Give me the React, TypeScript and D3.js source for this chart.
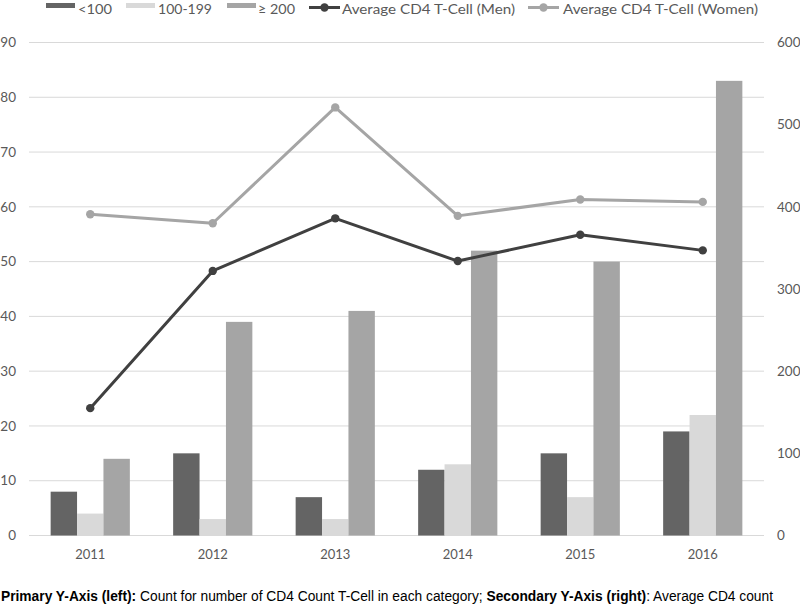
import React, { useLayoutEffect, useRef, useState } from "react";
import * as d3 from "d3";

const years = ["2011", "2012", "2013", "2014", "2015", "2016"];
const under100 = [8, 15, 7, 12, 15, 19];
const mid100to199 = [4, 3, 3, 13, 7, 22];
const over200 = [14, 39, 41, 52, 50, 83];
const avgMen = [155, 322, 386, 334, 366, 347];
const avgWomen = [391, 380, 521, 389, 409, 406];
const leftTicks = [0, 10, 20, 30, 40, 50, 60, 70, 80, 90];
const rightTicks = [0, 100, 200, 300, 400, 500, 600];

const barSeries = [
  { name: "<100", values: under100, color: "#646464" },
  { name: "100-199", values: mid100to199, color: "#d9d9d9" },
  { name: "\u2265 200", values: over200, color: "#a5a5a5" },
];
const lineSeries = [
  { name: "Average CD4 T-Cell (Men)", values: avgMen, color: "#404040" },
  { name: "Average CD4 T-Cell (Women)", values: avgWomen, color: "#a5a5a5" },
];
const captionParts = [
  { text: "Primary Y-Axis (left):", bold: true },
  { text: " Count for number of CD4 Count T-Cell in each category; ", bold: false },
  { text: "Secondary Y-Axis (right)", bold: true },
  { text: ": Average CD4 count", bold: false },
];

const W = 800;
const H = 607;
const x0 = 29;
const x1 = 764;
const yTop = 42.5;
const yBot = 535.5;
const font = "Lato, 'Open Sans', sans-serif";

export default function App() {
  const capRef = useRef<SVGTextElement>(null);
  const [capScale, setCapScale] = useState(0.82);
  useLayoutEffect(() => {
    if (capRef.current) {
      const len = capRef.current.getComputedTextLength();
      if (len > 0) setCapScale(772 / len);
    }
  }, []);

  const x = d3.scaleBand().domain(years).range([x0, x1]).padding(0);
  const bw = 26.4;
  const yL = d3.scaleLinear().domain([0, 90]).range([yBot, yTop]);
  const yR = d3.scaleLinear().domain([0, 600]).range([yBot, yTop]);
  const cx = (i: number) => (x(years[i]) as number) + x.bandwidth() / 2;

  const legendBars = [
    { sx: 46, tx: 78, tw: 34 },
    { sx: 126, tx: 158, tw: 54 },
    { sx: 227, tx: 258, tw: 37 },
  ];
  const legendLines = [
    { lx: 309, tx: 342, tw: 173 },
    { lx: 528, tx: 563, tw: 195 },
  ];

  return (
    <svg
      width={W}
      height={H}
      style={{ position: "absolute", left: 0, top: 0, background: "#fff" }}
    >
      {leftTicks.map((t) => (
        <line
          key={"g" + t}
          x1={x0}
          x2={x1}
          y1={yL(t)}
          y2={yL(t)}
          stroke="#d9d9d9"
          strokeWidth={1}
        />
      ))}
      {leftTicks.map((t) => (
        <text
          key={"l" + t}
          x={16}
          y={yL(t)}
          dy="0.35em"
          textAnchor="end"
          fontFamily={font}
          fontSize={13.5}
          fill="#595959"
        >
          {t}
        </text>
      ))}
      {rightTicks.map((t) => (
        <text
          key={"r" + t}
          x={777}
          y={yR(t)}
          dy="0.35em"
          textAnchor="start"
          fontFamily={font}
          fontSize={13.5}
          fill="#595959"
        >
          {t}
        </text>
      ))}
      {barSeries.map((s, si) =>
        s.values.map((v, i) => (
          <rect
            key={s.name + i}
            x={cx(i) - 1.5 * bw + si * bw}
            y={yL(v)}
            width={bw}
            height={yL(0) - yL(v)}
            fill={s.color}
          />
        ))
      )}
      {lineSeries.map((s) => {
        const gen = d3
          .line<number>()
          .x((_, i) => cx(i))
          .y((d) => yR(d));
        return (
          <g key={s.name}>
            <path
              d={gen(s.values) || ""}
              fill="none"
              stroke={s.color}
              strokeWidth={3}
              strokeLinejoin="round"
            />
            {s.values.map((v, i) => (
              <circle key={i} cx={cx(i)} cy={yR(v)} r={4.2} fill={s.color} />
            ))}
          </g>
        );
      })}
      {years.map((yr, i) => (
        <text
          key={yr}
          x={cx(i)}
          y={554}
          dy="0.35em"
          textAnchor="middle"
          fontFamily={font}
          fontSize={13}
          fill="#595959"
        >
          {yr}
        </text>
      ))}
      {barSeries.map((s, i) => (
        <g key={"lg" + i}>
          <rect x={legendBars[i].sx} y={3} width={29} height={5} fill={s.color} />
          <text
            x={legendBars[i].tx}
            y={14}
            fontFamily={font}
            fontSize={14}
            fill="#595959"
            textLength={legendBars[i].tw}
            lengthAdjust="spacingAndGlyphs"
          >
            {s.name}
          </text>
        </g>
      ))}
      {lineSeries.map((s, i) => (
        <g key={"ll" + i}>
          <line
            x1={legendLines[i].lx}
            x2={legendLines[i].lx + 31}
            y1={7.5}
            y2={7.5}
            stroke={s.color}
            strokeWidth={3}
          />
          <circle cx={legendLines[i].lx + 15.5} cy={7.5} r={4.2} fill={s.color} />
          <text
            x={legendLines[i].tx}
            y={14}
            fontFamily={font}
            fontSize={14}
            fill="#595959"
            textLength={legendLines[i].tw}
            lengthAdjust="spacingAndGlyphs"
          >
            {s.name}
          </text>
        </g>
      ))}
      <g transform={`translate(1,601) scale(${capScale},1)`}>
        <text
          ref={capRef}
          x={0}
          y={0}
          fontFamily="'Liberation Sans', Arial, sans-serif"
          fontSize={15}
          fill="#000"
          style={{ whiteSpace: "pre" }}
        >
          {captionParts.map((p, i) => (
            <tspan key={i} fontWeight={p.bold ? "bold" : "normal"}>
              {p.text}
            </tspan>
          ))}
        </text>
      </g>
    </svg>
  );
}
